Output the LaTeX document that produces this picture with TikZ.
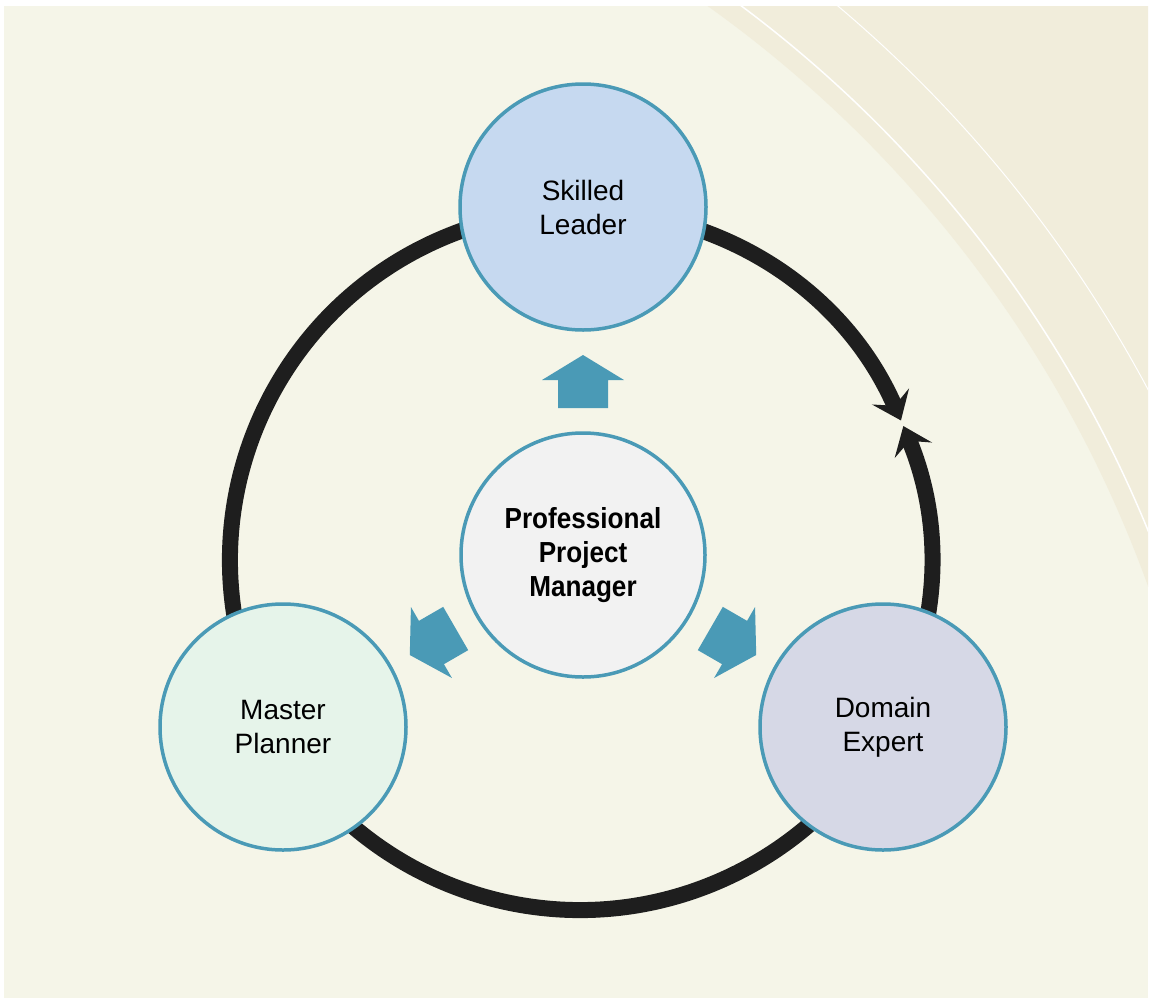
\documentclass[tikz,border=0pt]{standalone}
\usepackage{fontspec}
\setmainfont{Liberation Sans}
\newfontfamily\narrowfont[FakeStretch=0.9]{Liberation Sans}
\usetikzlibrary{arrows.meta}
\definecolor{bg}{HTML}{F5F5E8}
\definecolor{bgd}{HTML}{F1EDDB}
\definecolor{teal}{HTML}{4A9AB6}
\definecolor{ring}{HTML}{1E1E1E}
\definecolor{fsl}{HTML}{C6D9F0}
\definecolor{fmp}{HTML}{E6F4EA}
\definecolor{fde}{HTML}{D6D8E6}
\definecolor{fpm}{HTML}{F2F2F2}
\begin{document}
\begin{tikzpicture}[x=1pt,y=-1pt,
  bub/.style={circle,draw=teal,line width=3.5pt,minimum size=246pt,inner sep=0pt,align=center,font=\fontsize{28}{34}\selectfont},
  blk/.style={fill=teal,draw=none}]
\useasboundingbox (0,0) rectangle (1152,1002);
\fill[white] (0,0) rectangle (1152,1002);
\fill[bg] (4,6) rectangle (1148,998);
\begin{scope}
\clip (4,6) rectangle (1148,998);
\fill[bgd, even odd rule] (0,1000) circle[radius=1220] (-500,-500) rectangle (1500,1500);
\draw[white,line width=1.5pt] (0,1000) circle[radius=1240];
\draw[white,line width=1pt] (0,1000) circle[radius=1300];
\end{scope}
% ring
\coordinate (c) at (580,560);
\draw[ring,line width=16pt,{Stealth[length=26pt,width=40pt,inset=10pt]}-{Stealth[length=26pt,width=40pt,inset=10pt]}]
  (c) ++(-22.5:350) arc[start angle=-22.5,end angle=336.5,radius=350];
\node[bub,fill=fsl] (sl) at (583,207) {Skilled\\Leader};
\node[bub,fill=fmp] (mp) at (283,727) {Master\\Planner};
\node[bub,fill=fde] (de) at (883,727) {Domain\\Expert};
\node[bub,fill=fpm,minimum size=244pt,font=\narrowfont\bfseries\fontsize{29}{34}\selectfont] (pm) at (583,555) {Professional\\Project\\Manager};
\foreach \a/\n in {0/au,120/al,-120/ar}{
  \begin{scope}[shift={(pm.center)},rotate=\a]
   \fill[blk] (-25,-147) -- (25,-147) -- (25,-175) -- (41,-175) -- (0,-200) -- (-41,-175) -- (-25,-175) -- cycle;
  \end{scope}}
\end{tikzpicture}
\end{document}
